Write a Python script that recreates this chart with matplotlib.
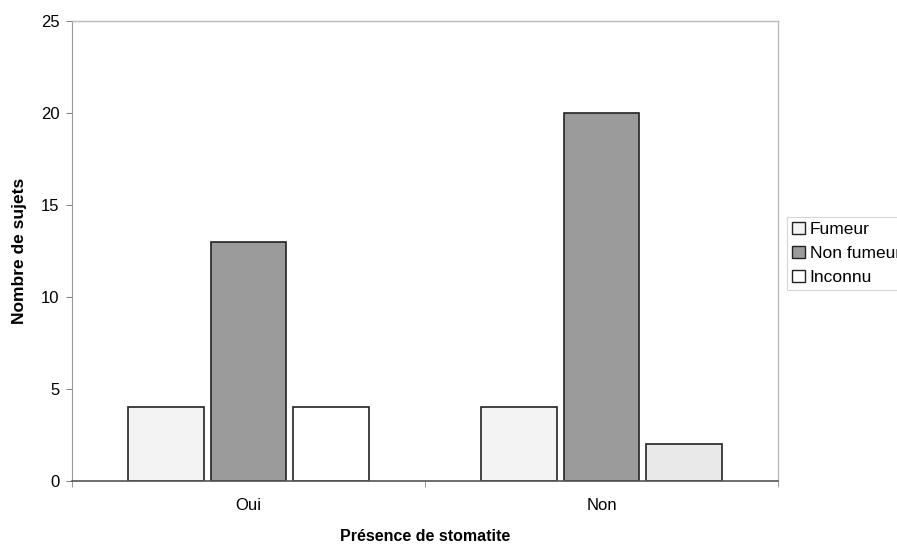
import matplotlib

matplotlib.use("Agg")
import matplotlib.pyplot as plt
import numpy as np

plt.rcParams["font.family"] = ["Liberation Sans", "DejaVu Sans"]

CATEGORIES = ["Oui", "Non"]
SERIES = ["Fumeur", "Non fumeur", "Inconnu"]
FUMEUR = [4, 4]
NON_FUMEUR = [13, 20]
INCONNU = [4, 2]

COLORS = {
    "Fumeur": ["#f3f3f3", "#f3f3f3"],
    "Non fumeur": ["#9b9b9b", "#9b9b9b"],
    "Inconnu": ["#ffffff", "#e9e9e9"],
}


def main() -> None:
    fig = plt.figure(figsize=(8.97, 5.44), dpi=100)
    ax = fig.add_axes([72 / 897, 1 - 481 / 544, 706 / 897, 460 / 544])

    x = np.arange(len(CATEGORIES))
    width = 0.215
    step = 0.234
    values = [FUMEUR, NON_FUMEUR, INCONNU]
    for i, (name, vals) in enumerate(zip(SERIES, values)):
        ax.bar(x + (i - 1) * step, vals, width, color=COLORS[name],
               edgecolor="#222222", linewidth=1.2, label=name)

    ax.set_xlim(-0.5, 1.5)
    ax.set_ylim(0, 25)
    ax.set_yticks(range(0, 26, 5))
    ax.set_xticks(x)
    ax.set_xticklabels(CATEGORIES, fontsize=12)
    ax.tick_params(axis="x", length=0, pad=12)
    ax.set_xticks([-0.5, 0.5, 1.5], minor=True)
    ax.tick_params(axis="x", which="minor", length=4, color="#888888")
    ax.tick_params(axis="y", labelsize=12, length=4, color="#888888", pad=5)

    for side in ("top", "right"):
        ax.spines[side].set_color("#bbbbbb")
        ax.spines[side].set_linewidth(1.0)
    ax.spines["left"].set_color("#999999")
    ax.spines["bottom"].set_color("#555555")
    ax.spines["bottom"].set_linewidth(1.2)

    ax.set_ylabel("Nombre de sujets", fontsize=12.5, fontweight="bold", labelpad=10)
    ax.set_xlabel("Présence de stomatite", fontsize=11.5, fontweight="bold", labelpad=12)

    leg = ax.legend(loc="upper left", bbox_to_anchor=(1.013, 0.574), frameon=True,
                    fontsize=12.5, handlelength=0.7, handleheight=0.7,
                    handletextpad=0.3, labelspacing=0.5, borderpad=0.3,
                    borderaxespad=0, fancybox=False)
    leg.get_frame().set_edgecolor("#cccccc")
    leg.get_frame().set_linewidth(0.8)
    for h in leg.legend_handles:
        h.set_linewidth(1.0)

    fig.savefig("out.png", dpi=100)
    plt.close(fig)


if __name__ == "__main__":
    main()
